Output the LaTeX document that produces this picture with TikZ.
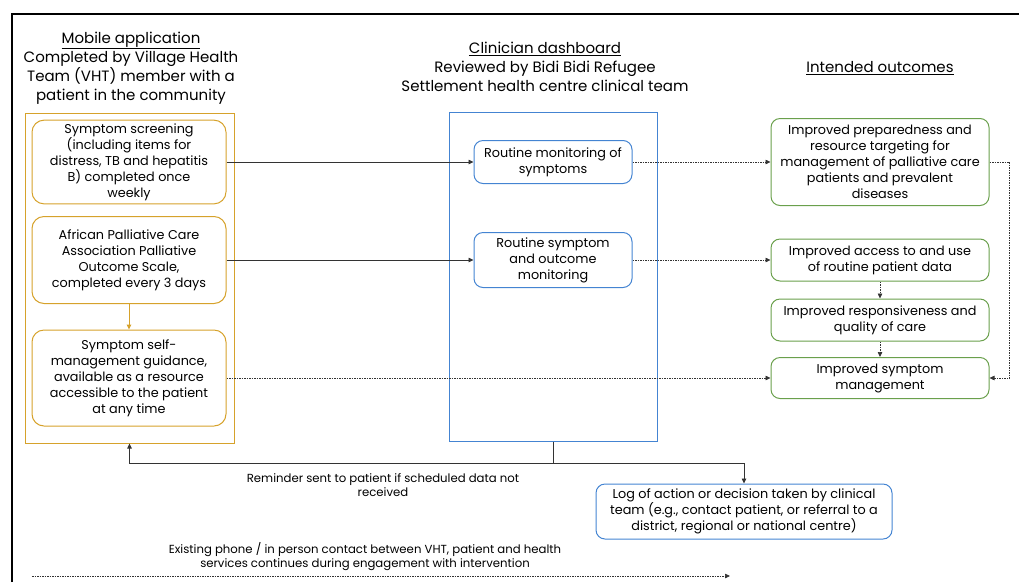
\documentclass[tikz,border=0pt]{standalone}
\usepackage{fontspec}
\setmainfont{Poppins}
\usetikzlibrary{arrows.meta}
\definecolor{appcol}{RGB}{214,162,43}
\definecolor{dashcol}{RGB}{68,132,210}
\definecolor{outcol}{RGB}{106,160,76}

\begin{document}
\begin{tikzpicture}[x=1pt, y=-1pt,
  head/.style={font=\fontsize{15}{19}\selectfont, align=center},
  body/.style={font=\fontsize{12.8}{16}\selectfont, align=center},
  note/.style={font=\fontsize{11.7}{14.5}\selectfont, align=center},
  appbox/.style={body, draw=appcol, line width=1pt, rounded corners=12pt, minimum width=194pt},
  dashbox/.style={body, draw=dashcol, line width=1pt, rounded corners=9pt, minimum width=158pt},
  outbox/.style={body, draw=outcol, line width=1pt, rounded corners=9pt, minimum width=218pt},
  tip/.style={-{Triangle[length=5pt,width=4.5pt]}},
  dots/.style={dash pattern=on 1.5pt off 1pt, line width=0.7pt}]
\useasboundingbox (0,0) rectangle (1019,582);
% outer frame, cut off by the page edge
\draw[line width=2pt] (12,582) |- (1019,14);

% mobile application
\node[head] (apphead) at (131,68) {\underline{Mobile application}\\Completed by Village Health\\Team (VHT) member with a\\patient in the community};
\node[draw=appcol, line width=1pt, minimum width=209pt, minimum height=330pt] (app) at (129.5,278) {};
\node[appbox, minimum height=83pt] (screen) at (129,162) {Symptom screening\\(including items for\\distress, TB and hepatitis\\B) completed once\\weekly};
\node[appbox, minimum height=87pt] (apca) at (129,260) {African Palliative Care\\Association Palliative\\Outcome Scale,\\completed every 3 days};
\node[appbox, minimum height=96pt] (selfman) at (129,378) {Symptom self-\\management guidance,\\available as a resource\\accessible to the patient\\at any time};
\draw[appcol, line width=1pt, tip] (apca) -- (selfman);

% clinician dashboard
\node[head] (dashhead) at (545,67) {\underline{Clinician dashboard}\\Reviewed by Bidi Bidi Refugee\\Settlement health centre clinical team};
\node[draw=dashcol, line width=1pt, minimum width=208pt, minimum height=329pt] (dash) at (553,276.5) {};
\node[dashbox, minimum height=43pt] (monitor) at (553,162) {Routine monitoring of\\symptoms};
\node[dashbox, minimum height=55pt] (outcome) at (553,260) {Routine symptom\\and outcome\\monitoring};
\node[dashbox, minimum width=296pt, minimum height=55pt] (log) at (744,511.5) {Log of action or decision taken by clinical\\team (e.g., contact patient, or referral to a\\district, regional or national centre)};

% intended outcomes
\node[head] (outhead) at (880,68) {\underline{Intended outcomes}};
\node[outbox, minimum height=87pt] (prepared) at (880,162) {Improved preparedness and\\resource targeting for\\management of palliative care\\patients and prevalent\\diseases};
\node[outbox, minimum height=42pt] (access) at (880,260) {Improved access to and use\\of routine patient data};
\node[outbox, minimum height=42pt] (respons) at (880,320) {Improved responsiveness and\\quality of care};
\node[outbox, minimum height=41pt] (symman) at (880,378) {Improved symptom\\management};

% connectors
\draw[black!80, line width=0.8pt, tip] (screen) -- (monitor);
\draw[black!80, line width=0.8pt, tip] (apca) -- (outcome);
\draw[black!80, dots, tip] (monitor) -- (prepared);
\draw[black!80, dots, tip] (outcome) -- (access);
\draw[black!80, dots, tip] (access) -- (respons);
\draw[black!80, dots, tip] (respons) -- (symman);
\draw[black!80, dots, tip] (prepared.east) -- ++(20,0) |- (symman.east);
\draw[black!80, dots, tip] (selfman) -- (symman);

\draw[black!80, line width=0.8pt] (dash.south) -- ++(0,22) coordinate (split);
\draw[black!80, line width=0.8pt, tip] (split) -| (app.south);
\draw[black!80, line width=0.8pt, tip] (split) -| (log.north);
\node[note] (remind) at (383,485) {Reminder sent to patient if scheduled data not\\received};

\node[note] (contact) at (365,556.5) {Existing phone / in person contact between VHT, patient and health\\services continues during engagement with intervention};
\coordinate (cstart) at (32,576);
\coordinate (cend) at (730,576);
\draw[black!80, dots, tip] (cstart) -- (cend);
\end{tikzpicture}
\end{document}
